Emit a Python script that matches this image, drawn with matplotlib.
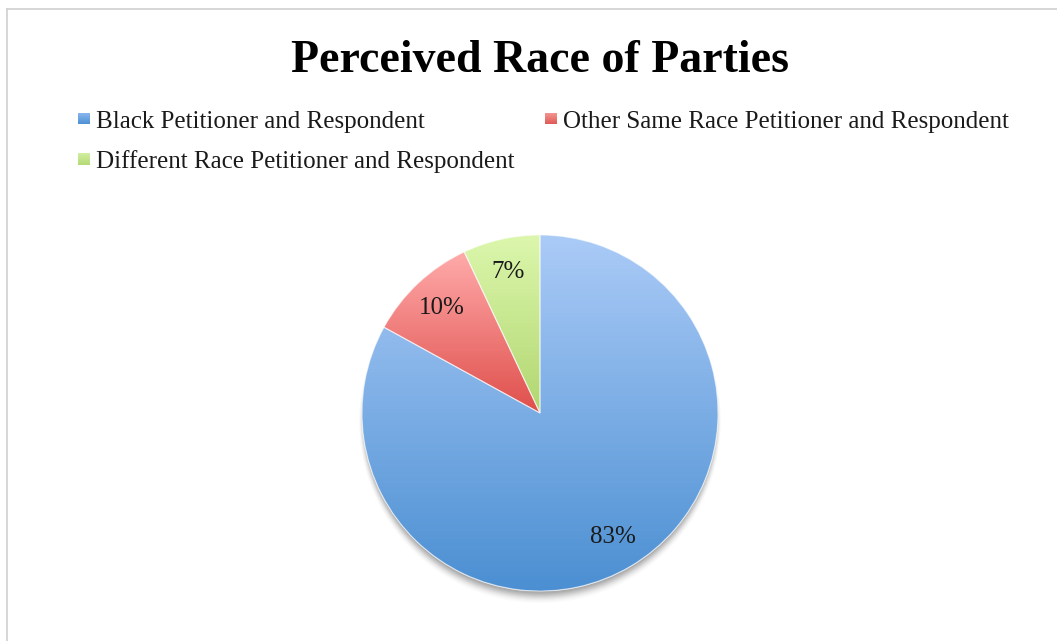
import numpy as np
import matplotlib
matplotlib.use("Agg")
import matplotlib.pyplot as plt
from matplotlib.colors import LinearSegmentedColormap
from matplotlib.patches import Circle, PathPatch
from matplotlib.lines import Line2D

title = "Perceived Race of Parties"
categories = ["Black Petitioner and Respondent",
              "Other Same Race Petitioner and Respondent",
              "Different Race Petitioner and Respondent"]
values = [83, 10, 7]
labels = ["83%", "10%", "7%"]
top_colors = ["#abcbf7", "#ffabab", "#dcf7ad"]
bottom_colors = ["#4b8fd2", "#df4f4b", "#b1d670"]
legend_top = ["#8dbaf0", "#f59a98", "#d0efa0"]
legend_bottom = ["#4e90d3", "#e05a56", "#b5da76"]

W, H = 1057, 641
fig = plt.figure(figsize=(W / 100, H / 100), dpi=100)
fig.patch.set_facecolor("white")

# border lines (top and left)
fig.add_artist(Line2D([7 / W, 1], [1 - 9 / H, 1 - 9 / H], color="#d0d0d0", lw=1.2))
fig.add_artist(Line2D([7 / W, 7 / W], [0, 1 - 9 / H], color="#d0d0d0", lw=1.2))

serif = ["Liberation Serif", "DejaVu Serif"]

fig.text(540 / W, 1 - 72 / H, title, ha="center", va="baseline",
         fontsize=33, fontweight="bold", family=serif, color="black")

cx, cy, R = 540, 413, 178
ax = fig.add_axes([(cx - R) / W, (H - cy - R) / H, 2 * R / W, 2 * R / H])

# soft shadow below the pie
for i, a in enumerate(np.linspace(0.06, 0.01, 10)):
    ax.add_patch(Circle((0, -0.025 - 0.003 * i), 0.99 + 0.003 * i, color="black",
                        alpha=a, lw=0, zorder=0, clip_on=False))

wedges, texts = ax.pie(values, startangle=90, counterclock=False, radius=1,
                       labels=labels, labeldistance=0.81,
                       wedgeprops=dict(edgecolor=(1, 1, 1, 0.6), linewidth=0.8),
                       textprops=dict(fontsize=18, family=serif, color="#1a1a1a"))
for w, t, b in zip(wedges, top_colors, bottom_colors):
    w.set_facecolor("white")
    w.set_zorder(1)
    path = w.get_path().transformed(w.get_patch_transform())
    ext = path.get_extents()
    cmap = LinearSegmentedColormap.from_list("g", [b, t])
    grad = np.linspace(0, 1, 256).reshape(-1, 1)
    im = ax.imshow(grad, cmap=cmap, origin="lower", aspect="auto",
                   extent=[ext.x0, ext.x1, ext.y0, ext.y1], zorder=2,
                   interpolation="bilinear")
    im.set_clip_path(w)
    ax.add_patch(PathPatch(path, facecolor="none",
                           edgecolor=(1, 1, 1, 0.55), lw=0.8, zorder=3))
for t in texts:
    t.set_ha("center")
    t.set_va("center")
    t.set_zorder(5)

ax.set_xlim(-1, 1)
ax.set_ylim(-1, 1)
ax.set_aspect("equal")
ax.axis("off")

# legend
def legend_item(x, baseline, top, bottom, text):
    lax = fig.add_axes([(x - 6) / W, 1 - (baseline - 3.5) / H, 12 / W, 12 / H])
    cmap = LinearSegmentedColormap.from_list("l", [bottom, top])
    lax.imshow(np.linspace(0, 1, 32).reshape(-1, 1), cmap=cmap, origin="lower",
               aspect="auto", interpolation="bilinear")
    lax.axis("off")
    fig.text((x + 12) / W, 1 - baseline / H, text, ha="left", va="baseline",
             fontsize=18, family=serif, color="#1a1a1a")

legend_item(84, 128, legend_top[0], legend_bottom[0], categories[0])
legend_item(551, 128, legend_top[1], legend_bottom[1], categories[1])
legend_item(84, 168, legend_top[2], legend_bottom[2], categories[2])

fig.savefig("out.png", dpi=100, facecolor="white")
